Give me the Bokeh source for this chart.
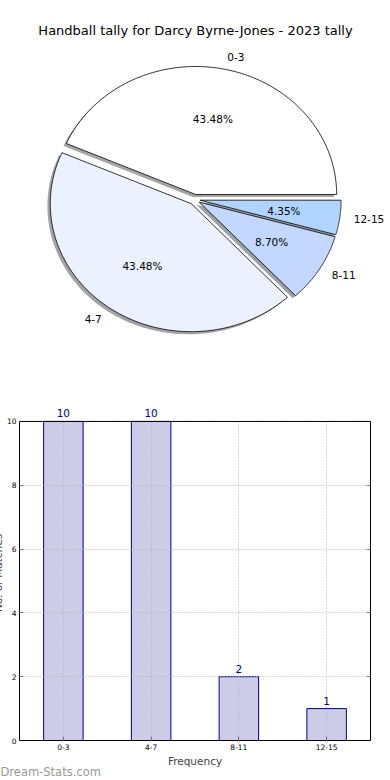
import numpy as np
from bokeh.plotting import figure
from bokeh.layouts import column
from bokeh.models import (Range1d, FactorRange, FixedTicker, ColumnDataSource, LabelSet,
                          LinearAxis, Span, Title)
from bokeh.core.properties import value
from bokeh.embed import file_html
from bokeh.resources import INLINE

# ---------------- data ----------------
title_text = "Handball tally for Darcy Byrne-Jones - 2023 tally"
categories = ["0-3", "4-7", "8-11", "12-15"]
counts = [10, 10, 2, 1]
pie_colors = ["#ffffff", "#ebf2fe", "#c4d8ff", "#b0d4ff"]
y_ticks = [0, 2, 4, 6, 8, 10]
y_max = 10
x_label = "Frequency"
y_label = "No. of Matches"
watermark = "Dream-Stats.com"

FONT = "DejaVu Sans"
W = 390
PIE_H = 395

# ---------------- pie ----------------
p1 = figure(frame_width=W, frame_height=PIE_H, output_backend="svg", toolbar_location=None,
            x_range=Range1d(0, W), y_range=Range1d(PIE_H, 0),
            x_axis_location=None, y_axis_location=None, min_border=0)
p1.grid.visible = False
p1.outline_line_color = None
p1.background_fill_color = "white"

cx, cy = 194.0, 199.0      # pie centre (px)
rx, ry = 141.0, 128.0      # axes are not equal-aspect -> elliptic pie
explode = 0.04
shadow_dx, shadow_dy = -0.02 * rx, 0.02 * ry

vals = np.array(counts, dtype=float)
frac = vals / vals.sum()
ends = np.cumsum(frac) * 2 * np.pi
starts = ends - frac * 2 * np.pi

wx, wy, sx, sy, shade = [], [], [], [], []
lab_x, lab_y, lab_align, pct_x, pct_y, pct_txt = [], [], [], [], [], []
for i, (a0, a1) in enumerate(zip(starts, ends)):
    mid = 0.5 * (a0 + a1)
    ox = cx + explode * rx * np.cos(mid)
    oy = cy - explode * ry * np.sin(mid)
    t = np.linspace(a0, a1, 120)
    xs = np.concatenate([[ox], ox + rx * np.cos(t)])
    ys = np.concatenate([[oy], oy - ry * np.sin(t)])
    wx.append(list(xs)); wy.append(list(ys))
    sx.append(list(xs + shadow_dx)); sy.append(list(ys + shadow_dy))
    c = pie_colors[i].lstrip("#")
    rgb = [int(c[k:k + 2], 16) for k in (0, 2, 4)]
    shade.append("#%02x%02x%02x" % tuple(int(0.3 * v) for v in rgb))
    lab_x.append(ox + 1.1 * rx * np.cos(mid))
    lab_y.append(oy - 1.1 * ry * np.sin(mid))
    lab_align.append("left" if np.cos(mid) > 0 else "right")
    pct_x.append(ox + 0.6 * rx * np.cos(mid))
    pct_y.append(oy - 0.6 * ry * np.sin(mid))
    pct_txt.append("%.2f%%" % (100 * frac[i]))

p1.patches(sx, sy, fill_color=shade, fill_alpha=0.5, line_color=None)
p1.patches(wx, wy, fill_color=pie_colors, line_color="black", line_width=0.8)

p1.text(x=lab_x, y=lab_y, text=categories, text_align=lab_align,
        text_baseline="middle", text_font=value(FONT), text_font_size="10.5px",
        text_color="black")
p1.text(x=pct_x, y=pct_y, text=pct_txt, text_align="center",
        text_baseline="middle", text_font=value(FONT), text_font_size="10.5px",
        text_color="black")
p1.text(x=[W / 2], y=[30], text=[title_text], text_align="center",
        text_baseline="middle", text_font=value(FONT), text_font_size="13px",
        text_color="black")

# ---------------- bar ----------------
p2 = figure(output_backend="svg", toolbar_location=None,
            x_range=FactorRange(*categories), y_range=Range1d(0, y_max + 0.5),
            frame_width=351, frame_height=335,
            min_border_left=34, min_border_right=20, min_border_top=10,
            min_border_bottom=40)
src = ColumnDataSource(dict(cat=categories, val=counts, txt=[str(v) for v in counts]))
p2.vbar(x="cat", top="val", width=0.45, source=src, fill_color="#ccccE6",
        line_color="#00008b", line_width=1)

p2.outline_line_color = None
for g in (p2.xgrid, p2.ygrid):
    g.grid_line_color = "#b0b0b0"
    g.grid_line_dash = "1 2"
    g.grid_line_width = 1
    g.level = "annotation"
if "cross_bounds" in p2.xgrid.properties():
    p2.xgrid.cross_bounds = (0, y_max)
p2.ygrid.bounds = (0, y_max)

xax = p2.below[0]
yax = p2.left[0]
yax.ticker = FixedTicker(ticks=y_ticks)
yax.bounds = (0, y_max)

right_axis = LinearAxis(ticker=FixedTicker(ticks=y_ticks), bounds=(0, y_max))
p2.add_layout(right_axis, "right")

for ax in (xax, yax, right_axis):
    ax.major_tick_in = 4
    ax.major_tick_out = 0
    ax.minor_tick_line_color = None
    ax.axis_line_color = "black"
    ax.major_tick_line_color = "black"
    ax.major_tick_line_width = 0.6
    ax.major_label_text_font = FONT
    ax.major_label_text_font_size = "7.5px"
    ax.major_label_standoff = 3
    ax.major_label_text_color = "black"
right_axis.major_label_text_color = None
right_axis.major_label_text_font_size = "1px"
right_axis.major_label_standoff = 0

xax.axis_label = x_label
xax.axis_label_text_font = FONT
xax.axis_label_text_font_size = "10.5px"
xax.axis_label_text_font_style = "normal"
xax.axis_label_standoff = 2

yax.axis_label = y_label
yax.axis_label_text_font = FONT
yax.axis_label_text_font_size = "10.5px"
yax.axis_label_text_font_style = "normal"
yax.axis_label_standoff = 0

p2.add_layout(Span(location=y_max, dimension="width", line_color="black", line_width=1))

p2.add_layout(LabelSet(x="cat", y="val", text="txt", source=src, y_offset=4,
                       text_align="center", text_baseline="bottom",
                       text_font=value(FONT), text_font_size="10.5px",
                       text_color="#00008b"))

wm = Title(text=watermark, align="left", offset=-19, text_font=FONT,
           text_font_size="11.5px", text_font_style="normal", text_color="#999999")
if "standoff" in Title.properties():
    wm.standoff = -14
p2.add_layout(wm, "below")

bar_block = column(p2, styles={"margin-left": "-15px"})

open("out.html", "w").write(file_html([p1, bar_block], INLINE))
